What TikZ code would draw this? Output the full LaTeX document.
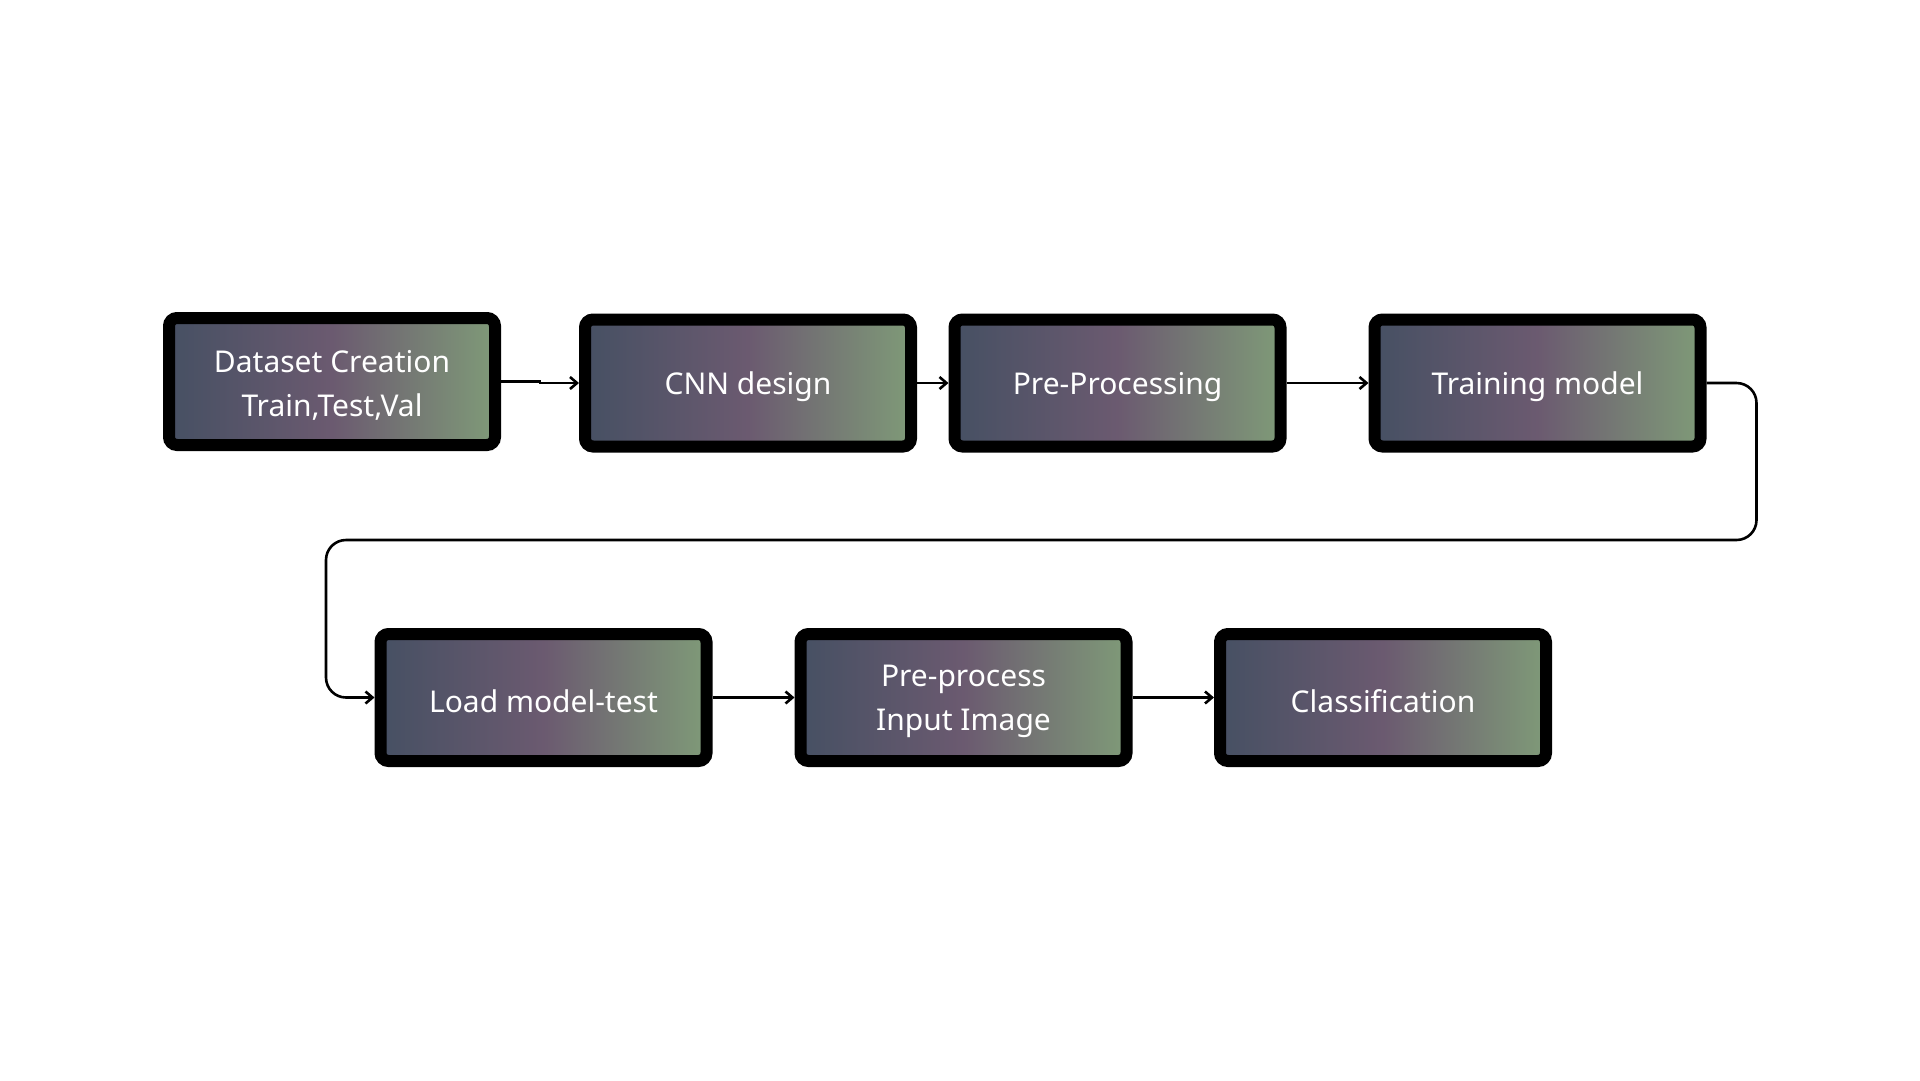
\documentclass[tikz,border=0pt]{standalone}
\usepackage{fontspec}
\setmainfont{Noto Sans}
\usetikzlibrary{arrows.meta}
\definecolor{gA}{HTML}{465063}
\definecolor{gB}{HTML}{6B5A70}
\definecolor{gC}{HTML}{7F9A78}
\pgfdeclarehorizontalshading{boxgrad}{100bp}{color(0bp)=(gA); color(25bp)=(gA); color(50bp)=(gB); color(75bp)=(gC); color(100bp)=(gC)}
\tikzset{
  stepbox/.style={draw=black, line width=12pt, rounded corners=8pt, shading=boxgrad,
    minimum width=326pt, minimum height=127pt, inner sep=0pt},
  boxtext/.style={align=center, text=white, inner sep=0pt, yshift=-4pt,
    font=\fontsize{30}{44}\selectfont},
  flow/.style={line width=2.6pt, -{Straight Barb[length=7pt,width=12pt,line width=2.6pt]}},
  loop/.style={flow, rounded corners=20pt}
}
\begin{document}
\begin{tikzpicture}[x=1pt,y=-1pt]
\useasboundingbox (0,0) rectangle (1920,1080);
\node[stepbox, label={[boxtext]center:{Dataset Creation\\Train,Test,Val}}] (b1) at (332,381.5) {};
\node[stepbox, label={[boxtext]center:CNN design}] (b2) at (748,383) {};
\node[stepbox, label={[boxtext]center:Pre-Processing}] (b3) at (1117.5,383) {};
\node[stepbox, label={[boxtext]center:Training model}] (b4) at (1537.5,383) {};
\node[stepbox, label={[boxtext]center:Load model-test}] (b5) at (543.5,697.5) {};
\node[stepbox, label={[boxtext]center:{Pre-process\\Input Image}}] (b6) at (963.5,697.5) {};
\node[stepbox, label={[boxtext]center:Classification}] (b7) at (1383,697.5) {};
\draw[flow] (b1.east) -- ++(39,0) |- (b2.west);
\draw[flow] (b2) -- (b3);
\draw[flow] (b3) -- (b4);
\draw[loop] (b4.east) -- ++(50,0) |- (326,540) |- (b5.west);
\draw[flow] (b5) -- (b6);
\draw[flow] (b6) -- (b7);
\end{tikzpicture}
\end{document}
